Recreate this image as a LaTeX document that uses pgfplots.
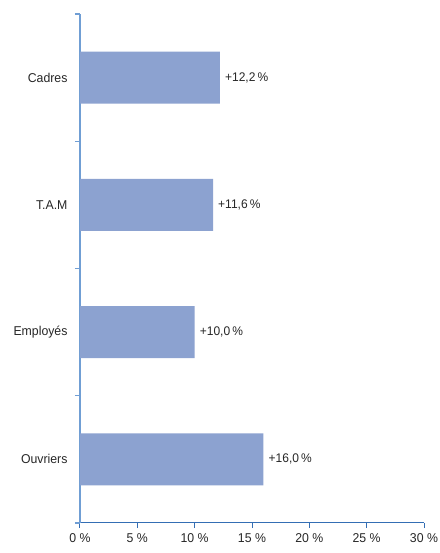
\documentclass[border=0pt]{standalone}
\usepackage{fontspec}
\setmainfont{Liberation Sans}[FakeStretch=0.96]
\usepackage{pgfplots}
\pgfplotsset{compat=1.18}
\definecolor{barcol}{RGB}{140,162,208}
\definecolor{yblue}{RGB}{112,158,212}
\definecolor{xblue}{RGB}{52,110,180}
\begin{document}
\begin{tikzpicture}
\begin{axis}[
  scale only axis, width=344pt, height=509pt,
  xmin=0, xmax=30, ymin=-0.5, ymax=3.5,
  axis x line*=bottom, axis y line*=left,
  xtick={0,5,10,15,20,25,30},
  xticklabels={0 \%,5 \%,10 \%,15 \%,20 \%,25 \%,30 \%},
  ytick={0,1,2,3},
  yticklabels={Ouvriers,Employés,T.A.M,Cadres},
  minor ytick={-0.5,0.5,1.5,2.5,3.5},
  tick align=outside, major tick length=5pt, minor tick length=5pt,
  major y tick style={draw=none},
  x axis line style={draw=xblue, line width=1pt},
  y axis line style={draw=yblue, line width=1.2pt},
  xtick style={draw=xblue, line width=1pt},
  ytick style={draw=yblue, line width=1.2pt},
  tick label style={font=\fontsize{12.8}{15}\selectfont, text=black!85},
  y tick label style={xshift=-4pt},
  x tick label style={yshift=-2pt},
  xbar, bar width=52pt,
  nodes near coords, point meta=explicit symbolic,
  nodes near coords style={anchor=west, font=\fontsize{12.5}{15}\selectfont, text=black!85, inner sep=5pt},
]
\addplot[fill=barcol, draw=none] coordinates {
  (16.0,0) [+16,0\,\%]
  (10.0,1) [+10,0\,\%]
  (11.6,2) [+11,6\,\%]
  (12.2,3) [+12,2\,\%]
};
\end{axis}
\pgfresetboundingbox
\path ([xshift=-80pt,yshift=-30pt]current axis.south west) rectangle ([xshift=15pt,yshift=14pt]current axis.north east);
\end{tikzpicture}
\end{document}
